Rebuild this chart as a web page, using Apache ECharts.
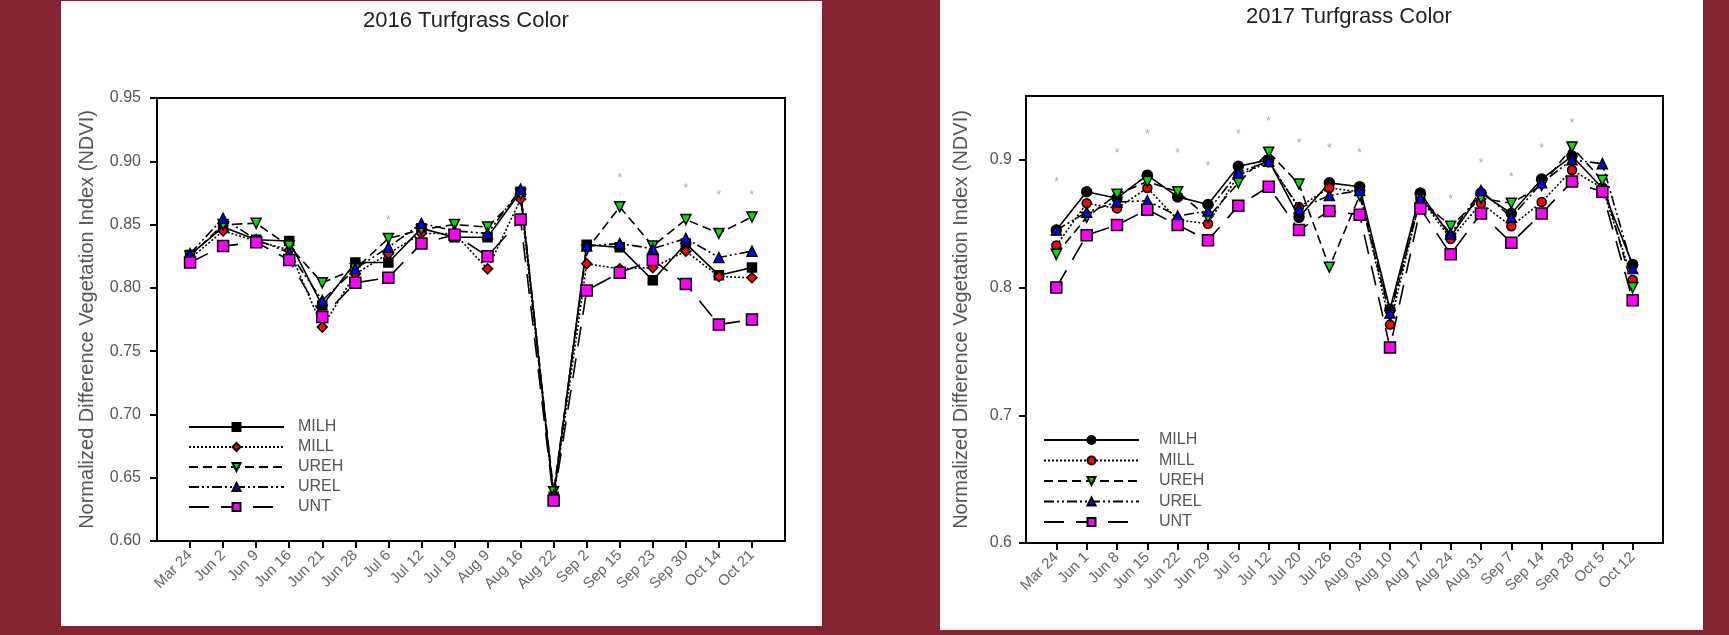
<!DOCTYPE html>
<html>
<head>
<meta charset="utf-8">
<title>Turfgrass Color</title>
<script src="https://cdn.jsdelivr.net/npm/echarts@6.0.0/dist/echarts.min.js"></script>
<style>
    html, body { margin: 0; padding: 0; }
    body { width: 1729px; height: 635px; background: #852531; position: relative; overflow: hidden; }
    .panel { position: absolute; background: #fff; }
    #chart-2016 { left: 61px; top: 1px; width: 761px; height: 625px; }
    #chart-2017 { left: 940px; top: 0; width: 763px; height: 630px; }
</style>
</head>
<body>
<div id="chart-2016" class="panel"></div>
<div id="chart-2017" class="panel"></div>
<script>
    // 2016 sampling dates + NDVI per treatment
    var dates2016 = ['Mar 24', 'Jun 2', 'Jun 9', 'Jun 16', 'Jun 21', 'Jun 28', 'Jul 6', 'Jul 12', 'Jul 19',
        'Aug 9', 'Aug 16', 'Aug 22', 'Sep 2', 'Sep 15', 'Sep 23', 'Sep 30', 'Oct 14', 'Oct 21'];
    var milh2016 = [0.826, 0.848, 0.838, 0.837, 0.786, 0.820, 0.820, 0.847, 0.840, 0.840, 0.876, 0.635, 0.834, 0.832, 0.806, 0.835, 0.810, 0.816];
    var mill2016 = [0.823, 0.845, 0.837, 0.830, 0.769, 0.811, 0.827, 0.843, 0.843, 0.815, 0.870, 0.634, 0.819, 0.815, 0.816, 0.829, 0.809, 0.808];
    var ureh2016 = [0.825, 0.850, 0.851, 0.833, 0.804, 0.815, 0.839, 0.846, 0.850, 0.848, 0.874, 0.639, 0.830, 0.864, 0.833, 0.854, 0.843, 0.856];
    var urel2016 = [0.827, 0.855, 0.838, 0.828, 0.790, 0.815, 0.832, 0.851, 0.845, 0.843, 0.878, 0.636, 0.833, 0.835, 0.831, 0.839, 0.824, 0.829];
    var unt2016  = [0.820, 0.833, 0.836, 0.822, 0.777, 0.804, 0.808, 0.835, 0.842, 0.825, 0.854, 0.632, 0.798, 0.812, 0.822, 0.803, 0.771, 0.775];
    var sig2016  = [null, null, null, null, null, null, 0.853, null, null, null, null, null, null, 0.886, null, 0.878, 0.873, 0.873];
    var yTicks2016 = [0.60, 0.65, 0.70, 0.75, 0.80, 0.85, 0.90, 0.95];

    // 2017
    var dates2017 = ['Mar 24', 'Jun 1', 'Jun 8', 'Jun 15', 'Jun 22', 'Jun 29', 'Jul 5', 'Jul 12', 'Jul 20', 'Jul 26',
        'Aug 03', 'Aug 10', 'Aug 17', 'Aug 24', 'Aug 31', 'Sep 7', 'Sep 14', 'Sep 28', 'Oct 5', 'Oct 12'];
    var milh2017 = [0.845, 0.875, 0.870, 0.888, 0.871, 0.865, 0.895, 0.900, 0.855, 0.882, 0.879, 0.783, 0.874, 0.840, 0.874, 0.858, 0.885, 0.903, 0.878, 0.818];
    var mill2017 = [0.833, 0.866, 0.862, 0.878, 0.853, 0.850, 0.888, 0.898, 0.863, 0.878, 0.875, 0.771, 0.870, 0.838, 0.866, 0.848, 0.867, 0.892, 0.878, 0.806];
    var ureh2017 = [0.826, 0.855, 0.873, 0.883, 0.875, 0.855, 0.882, 0.906, 0.881, 0.816, 0.872, 0.778, 0.869, 0.848, 0.870, 0.866, 0.880, 0.910, 0.884, 0.800];
    var urel2017 = [0.845, 0.859, 0.867, 0.868, 0.856, 0.860, 0.890, 0.899, 0.862, 0.872, 0.876, 0.780, 0.870, 0.842, 0.876, 0.855, 0.882, 0.900, 0.897, 0.815];
    var unt2017  = [0.800, 0.841, 0.849, 0.861, 0.849, 0.837, 0.864, 0.879, 0.845, 0.860, 0.857, 0.753, 0.862, 0.826, 0.858, 0.835, 0.858, 0.883, 0.875, 0.790];
    var sig2017  = [0.882, null, 0.905, 0.920, 0.905, 0.895, 0.920, 0.930, 0.913, 0.909, 0.905, null, null, 0.869, 0.897, 0.886, 0.909, 0.928, null, null];
    var yTicks2017 = [0.6, 0.7, 0.8, 0.9];

    var treatments = ['MILH', 'MILL', 'UREH', 'UREL', 'UNT'];

    var FONT = 'Liberation Sans, Arial, sans-serif';
    var TXT = '#555';

    function lineSeries(name, vals, look) {
        return {
            name: name,
            type: 'line',
            data: vals.map(function (v, i) { return [i + 1, v]; }),
            symbol: look.symbol,
            symbolSize: look.size,
            symbolRotate: look.rotate || 0,
            lineStyle: {color: '#000', width: 1.6, type: look.dash},
            itemStyle: {color: look.fill, borderColor: '#000', borderWidth: 1.5},
            emphasis: {disabled: true},
            z: look.z || 2
        };
    }

    function sigSeries(vals) {
        var pts = [];
        vals.forEach(function (v, i) {
            if (v !== null) pts.push([i + 1, v]);
        });
        return {
            type: 'scatter',
            data: pts,
            symbolSize: 1,
            itemStyle: {color: 'rgba(0,0,0,0)'},
            label: {show: true, position: 'inside', formatter: '*', color: '#b08a7a', fontSize: 12, fontFamily: FONT},
            emphasis: {disabled: true},
            silent: true
        };
    }

    function buildOption(cfg) {
        var pos = cfg.dates.map(function (d, i) { return i + 1; });
        var series = cfg.values.map(function (vals, k) {
            return lineSeries(treatments[k], vals, cfg.looks[k]);
        });
        series.push(sigSeries(cfg.sig));
        return {
            animation: false,
            title: {
                text: cfg.title, left: cfg.titleLeft, top: cfg.titleTop,
                textStyle: {fontFamily: FONT, fontSize: 22, fontWeight: 'normal', color: '#222'}
            },
            legend: {
                data: treatments,
                orient: 'vertical',
                left: cfg.legend.left, top: cfg.legend.top,
                itemWidth: 95, itemHeight: 10, itemGap: cfg.legend.gap,
                selectedMode: false,
                textStyle: {fontFamily: FONT, fontSize: 16, color: TXT, padding: [0, 0, 0, cfg.legend.pad]}
            },
            grid: {
                left: cfg.grid.left, right: cfg.grid.right, top: cfg.grid.top, bottom: cfg.grid.bottom,
                show: true, borderColor: '#000', borderWidth: 2
            },
            xAxis: {
                type: 'value', min: 0, max: cfg.dates.length + 1,
                axisLine: {onZero: false, lineStyle: {color: '#000', width: 2}},
                axisTick: {customValues: pos, length: 7, lineStyle: {color: '#000', width: 2}},
                axisLabel: {
                    customValues: pos, rotate: 45, margin: 12, fontSize: 15, fontFamily: FONT, color: '#666',
                    formatter: function (v) { return cfg.dates[Math.round(v) - 1]; }
                },
                splitLine: {show: false}
            },
            yAxis: {
                type: 'value', min: 0.6, max: 0.95,
                name: 'Normalized Difference Vegetation Index (NDVI)',
                nameLocation: 'middle', nameGap: cfg.nameGap,
                nameTextStyle: {fontFamily: FONT, fontSize: 20, color: TXT},
                axisLine: {lineStyle: {color: '#000', width: 2}},
                axisTick: {customValues: cfg.yTicks, length: 7, lineStyle: {color: '#000', width: 2}},
                axisLabel: {
                    customValues: cfg.yTicks, margin: cfg.labelMargin, fontSize: 16, fontFamily: FONT, color: TXT,
                    formatter: function (v) { return v.toFixed(cfg.digits); }
                },
                splitLine: {show: false}
            },
            series: series
        };
    }

    var looks2016 = [
        {symbol: 'rect', size: 9, fill: '#000', dash: 'solid'},
        {symbol: 'diamond', size: 10, fill: '#ff0000', dash: [2, 2]},
        {symbol: 'triangle', size: 10, rotate: 180, fill: '#00e000', dash: [9, 5]},
        {symbol: 'triangle', size: 10, fill: '#0000ff', dash: [10, 3, 2, 3, 2, 3]},
        {symbol: 'rect', size: 11, fill: '#ff00ff', dash: [20, 12], z: 3}
    ];
    var looks2017 = [
        {symbol: 'circle', size: 10, fill: '#000', dash: 'solid'},
        {symbol: 'circle', size: 9, fill: '#ff0000', dash: [2, 2]},
        {symbol: 'triangle', size: 10, rotate: 180, fill: '#00e000', dash: [9, 5]},
        {symbol: 'triangle', size: 10, fill: '#0000ff', dash: [10, 3, 2, 3, 2, 3]},
        {symbol: 'rect', size: 11, fill: '#ff00ff', dash: [20, 12], z: 3}
    ];

    var chart2016 = echarts.init(document.getElementById('chart-2016'));
    chart2016.setOption(buildOption({
        title: '2016 Turfgrass Color', titleLeft: 297, titleTop: 4,
        dates: dates2016,
        values: [milh2016, mill2016, ureh2016, urel2016, unt2016],
        sig: sig2016,
        looks: looks2016,
        yTicks: yTicks2016, digits: 2, labelMargin: 16, nameGap: 60,
        grid: {left: 96, right: 37, top: 97, bottom: 85},
        legend: {left: 122, top: 413, gap: 4, pad: 9}
    }));

    var chart2017 = echarts.init(document.getElementById('chart-2017'));
    chart2017.setOption(buildOption({
        title: '2017 Turfgrass Color', titleLeft: 301, titleTop: 1,
        dates: dates2017,
        values: [milh2017, mill2017, ureh2017, urel2017, unt2017],
        sig: sig2017,
        looks: looks2017,
        yTicks: yTicks2017, digits: 1, labelMargin: 14, nameGap: 55,
        grid: {left: 86, right: 40, top: 96, bottom: 87},
        legend: {left: 98, top: 427, gap: 4.5, pad: 15}
    }));
</script>
</body>
</html>
